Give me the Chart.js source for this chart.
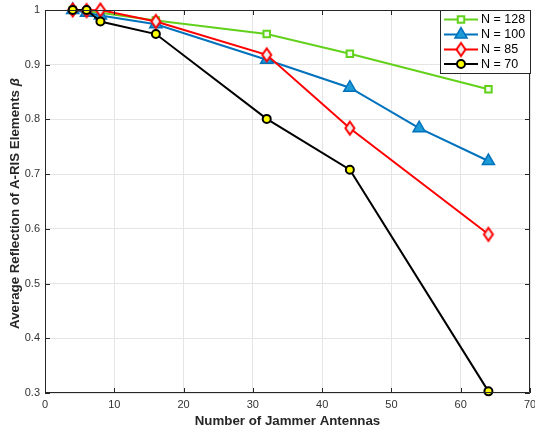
<!DOCTYPE html>
<html>
<head>
<meta charset="utf-8">
<script src="https://cdn.jsdelivr.net/npm/chart.js@4/dist/chart.umd.min.js"></script>
<style>
  html, body { margin: 0; padding: 0; background: #ffffff; }
  #wrap { width: 535px; height: 431px; position: relative; }
</style>
</head>
<body>
<div id="wrap"><canvas id="c" width="535" height="431"></canvas></div>
<script>
// Number of jammer antennas (x) and average reflection beta (y) per RIS size N
const antennas = [4, 6, 8, 16, 32, 44, 64];
const antennasN100 = [4, 6, 8, 16, 32, 44, 54, 64];
const betaN128 = [1.0, 0.997, 0.995, 0.981, 0.956, 0.920, 0.855];
const betaN100 = [1.0, 0.995, 0.990, 0.974, 0.909, 0.858, 0.784, 0.724];
const betaN85  = [1.0, 0.999, 1.0, 0.979, 0.918, 0.784, 0.590];
const betaN70  = [1.0, 1.0, 0.979, 0.956, 0.801, 0.708, 0.303];
const seriesLabels = ['N = 128', 'N = 100', 'N = 85', 'N = 70'];
const xTickValues = [0, 10, 20, 30, 40, 50, 60, 70];
const yTickValues = [0.3, 0.4, 0.5, 0.6, 0.7, 0.8, 0.9, 1];
const yTickLabels = ['0.3', '0.4', '0.5', '0.6', '0.7', '0.8', '0.9', '1'];

const FONT = '"Liberation Sans", Arial, Helvetica, sans-serif';
const AXIS_COLOR = '#262626';
// plot box edges within the 535 x 431 canvas
const AREA = { left: 45, top: 10, right: 530, bottom: 393 };

function toPoints(xs, ys) {
  return xs.map((x, i) => ({ x: x, y: ys[i] }));
}

// tall diamond marker
function diamondMarker(stroke, fill) {
  const cv = document.createElement('canvas');
  cv.width = 14; cv.height = 18;
  const g = cv.getContext('2d');
  g.beginPath();
  g.moveTo(7, 2.5);
  g.lineTo(11.5, 9);
  g.lineTo(7, 15.5);
  g.lineTo(2.5, 9);
  g.closePath();
  g.fillStyle = fill;
  g.fill();
  g.lineWidth = 2;
  g.strokeStyle = stroke;
  g.stroke();
  return cv;
}

const datasets = [
  {
    label: seriesLabels[0], data: toPoints(antennas, betaN128),
    borderColor: '#62d11b', backgroundColor: '#ffffff',
    pointStyle: 'rect', pointRadius: 4.6, pointBorderWidth: 2,
    pointBorderColor: '#62d11b', pointBackgroundColor: '#f4fbef', order: 4
  },
  {
    label: seriesLabels[1], data: toPoints(antennasN100, betaN100),
    borderColor: '#0072bd', backgroundColor: '#1d9bd7',
    pointStyle: 'triangle', pointRadius: 7, pointBorderWidth: 1.5,
    pointBorderColor: '#0072bd', pointBackgroundColor: '#1d9bd7', order: 3
  },
  {
    label: seriesLabels[2], data: toPoints(antennas, betaN85),
    borderColor: '#ff0000', backgroundColor: '#eeeeee',
    pointStyle: diamondMarker('#ff0000', '#eeeeee'), pointRadius: 6, order: 2
  },
  {
    label: seriesLabels[3], data: toPoints(antennas, betaN70),
    borderColor: '#000000', backgroundColor: '#ffff00',
    pointStyle: 'circle', pointRadius: 4, pointBorderWidth: 2,
    pointBorderColor: '#000000', pointBackgroundColor: '#ffff00', order: 1
  }
];
datasets.forEach(d => {
  d.borderWidth = 2;
  d.fill = false;
  d.tension = 0;
  d.clip = false;
  d.pointHoverRadius = d.pointRadius;
});

// box, inward tick marks, axis titles and the legend
const framePlugin = {
  id: 'frame',
  afterDraw(chart) {
    const ctx = chart.ctx;
    const a = chart.chartArea;
    const xs = chart.scales.x, ys = chart.scales.y;
    ctx.save();
    ctx.strokeStyle = AXIS_COLOR;
    ctx.lineWidth = 1;
    ctx.beginPath();
    ctx.rect(a.left + 0.5, a.top + 0.5, a.right - a.left - 1, a.bottom - a.top - 1);
    ctx.stroke();
    const tl = 5;
    ctx.beginPath();
    xTickValues.forEach(v => {
      const px = Math.round(xs.getPixelForValue(v)) + 0.5;
      ctx.moveTo(px, a.bottom); ctx.lineTo(px, a.bottom - tl);
      ctx.moveTo(px, a.top); ctx.lineTo(px, a.top + tl);
    });
    yTickValues.forEach(v => {
      const py = Math.round(ys.getPixelForValue(v)) + 0.5;
      ctx.moveTo(a.left, py); ctx.lineTo(a.left + tl, py);
      ctx.moveTo(a.right, py); ctx.lineTo(a.right - tl, py);
    });
    ctx.stroke();

    // axis titles
    ctx.fillStyle = AXIS_COLOR;
    ctx.font = 'bold 13.3px ' + FONT;
    ctx.textAlign = 'center';
    ctx.textBaseline = 'middle';
    ctx.fillText('Number of Jammer Antennas', (a.left + a.right) / 2, 421);

    ctx.save();
    ctx.translate(15, (a.top + a.bottom) / 2 + 2);
    ctx.rotate(-Math.PI / 2);
    const main = 'Average Reflection of A-RIS Elements ';
    const beta = '\u03B2';
    ctx.font = 'bold 13.3px ' + FONT;
    const w1 = ctx.measureText(main).width;
    ctx.font = 'italic bold 13.3px ' + FONT;
    const w2 = ctx.measureText(beta).width;
    const start = -(w1 + w2) / 2;
    ctx.textAlign = 'left';
    ctx.font = 'bold 13.3px ' + FONT;
    ctx.fillText(main, start, 0);
    ctx.font = 'italic bold 13.3px ' + FONT;
    ctx.fillText(beta, start + w1, 0);
    ctx.restore();

    // legend box in the upper right corner
    const lw = 91, lh = 64;
    const lx = a.right + 1 - lw, ly = a.top;
    ctx.fillStyle = '#ffffff';
    ctx.fillRect(lx, ly, lw, lh);
    ctx.strokeStyle = AXIS_COLOR;
    ctx.lineWidth = 1;
    ctx.strokeRect(lx + 0.5, ly + 0.5, lw - 1, lh - 1);
    const rowY = [19.5, 34.5, 49.5, 64];
    chart.data.datasets.forEach((d, i) => {
      const y = rowY[i];
      ctx.strokeStyle = d.borderColor;
      ctx.lineWidth = 2;
      ctx.beginPath();
      ctx.moveTo(lx + 4, y); ctx.lineTo(lx + 38, y);
      ctx.stroke();
      ctx.fillStyle = d.pointBackgroundColor || d.backgroundColor;
      ctx.strokeStyle = d.pointBorderColor || d.borderColor;
      ctx.lineWidth = d.pointBorderWidth || 2;
      Chart.helpers.drawPoint(ctx, { pointStyle: d.pointStyle, radius: d.pointRadius, borderWidth: ctx.lineWidth, rotation: 0 }, lx + 21, y);
      ctx.fillStyle = '#000000';
      ctx.font = '12.5px ' + FONT;
      ctx.textAlign = 'left';
      ctx.textBaseline = 'middle';
      ctx.fillText(d.label, lx + 41, y + 0.5);
    });
    ctx.restore();
  }
};

new Chart(document.getElementById('c'), {
  type: 'line',
  data: { datasets: datasets },
  options: {
    responsive: false,
    devicePixelRatio: 1,
    animation: false,
    events: [],
    layout: { padding: { top: AREA.top, right: 535 - AREA.right, left: 0, bottom: 0 } },
    plugins: { legend: { display: false }, tooltip: { enabled: false } },
    scales: {
      x: {
        type: 'linear', min: 0, max: 70,
        afterBuildTicks(s) { s.ticks = xTickValues.map(v => ({ value: v })); },
        afterFit(s) { s.height = 431 - AREA.bottom; s.paddingLeft = 0; s.paddingRight = 0; },
        // keep the plot box fixed whatever the outer label widths are
        afterUpdate(s) { s.left = AREA.left; s.right = AREA.right; s.width = AREA.right - AREA.left; s._startPixel = AREA.left; s._endPixel = AREA.right; s._length = AREA.right - AREA.left; },
        grid: { color: '#e5e5e5', drawTicks: false, lineWidth: 1 },
        border: { display: false },
        ticks: {
          color: '#333333', font: { family: FONT, size: 11 }, padding: 5,
          maxRotation: 0, autoSkip: false
        }
      },
      y: {
        type: 'linear', min: 0.3, max: 1,
        afterBuildTicks(s) { s.ticks = yTickValues.map(v => ({ value: v })); },
        afterFit(s) { s.width = AREA.left; s.paddingTop = 0; s.paddingBottom = 0; },
        grid: { color: '#e5e5e5', drawTicks: false, lineWidth: 1 },
        border: { display: false },
        ticks: {
          color: '#333333', font: { family: FONT, size: 11 }, padding: 5,
          autoSkip: false,
          callback(value) {
            const i = yTickValues.findIndex(t => Math.abs(t - value) < 1e-9);
            return i >= 0 ? yTickLabels[i] : '';
          }
        }
      }
    }
  },
  plugins: [framePlugin, {
    id: 'fixArea',
    afterLayout(chart) {
      chart.chartArea.left = AREA.left;
      chart.chartArea.right = AREA.right;
      chart.chartArea.width = AREA.right - AREA.left;
      const x = chart.scales.x;
      x.left = AREA.left; x.right = AREA.right; x.width = AREA.right - AREA.left;
      x.configure();
    }
  }]
});
</script>
</body>
</html>
